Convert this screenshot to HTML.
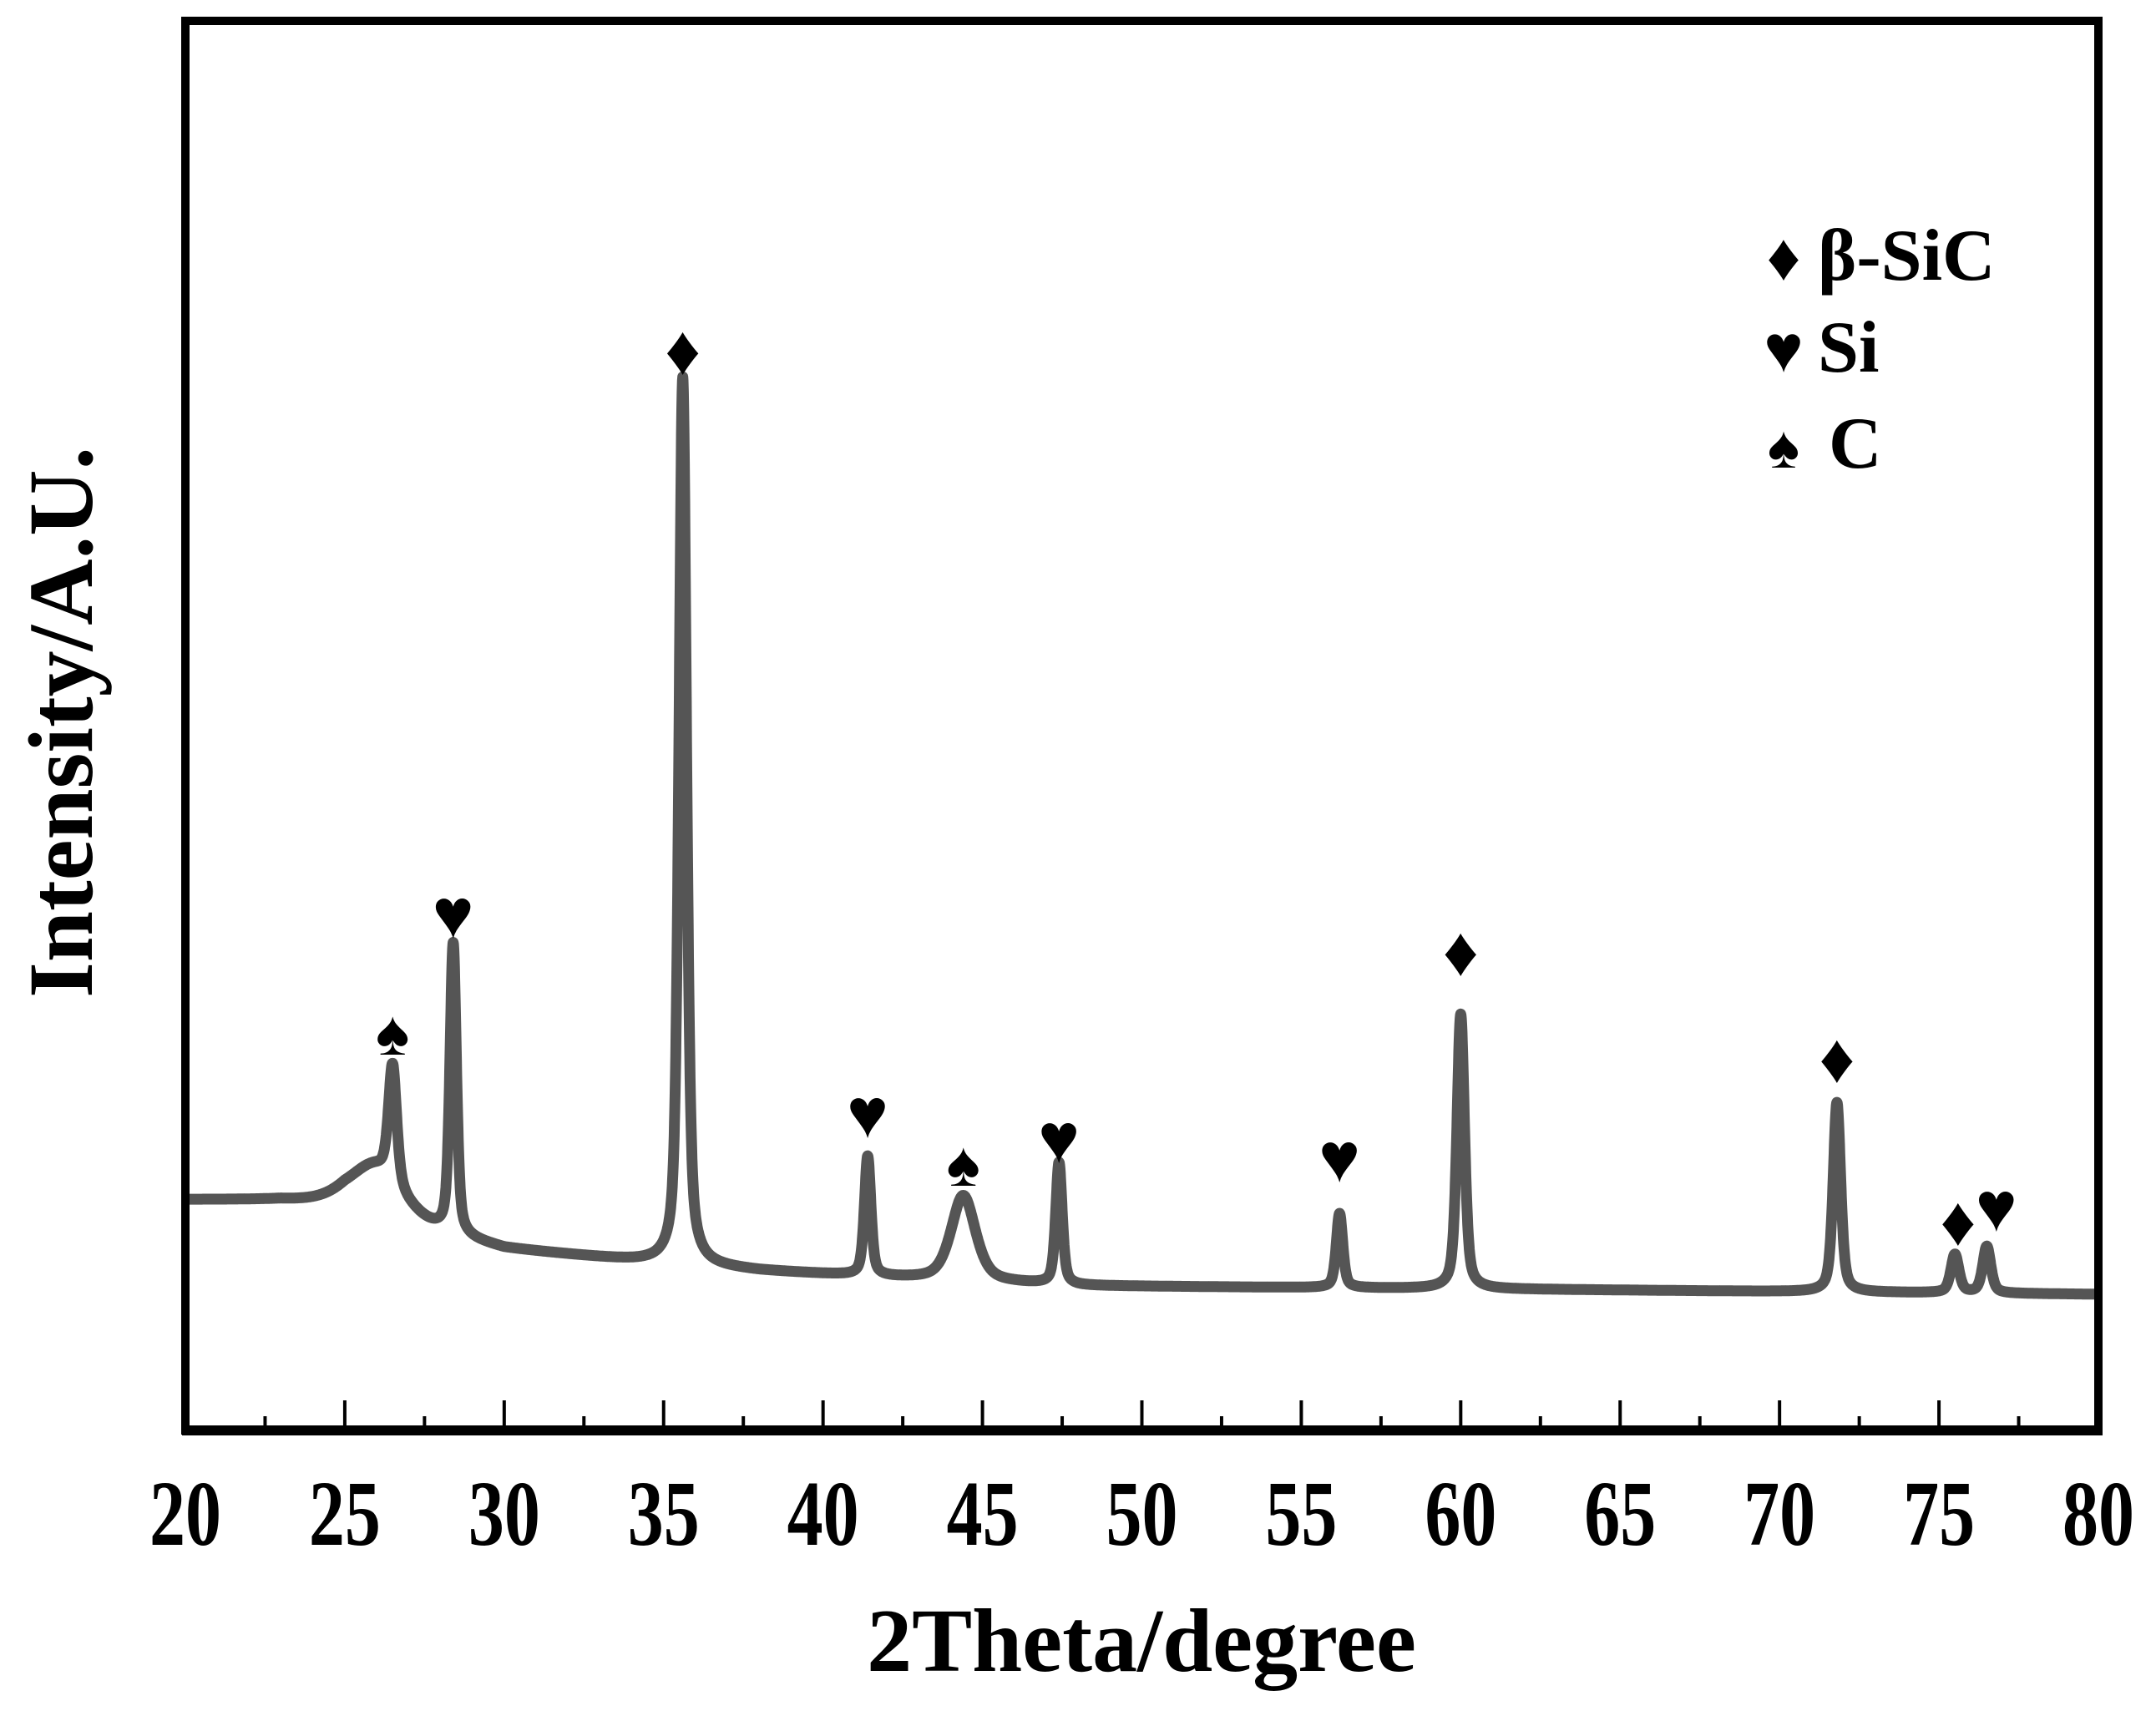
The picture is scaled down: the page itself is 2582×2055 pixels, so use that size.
<!DOCTYPE html>
<html><head><meta charset="utf-8"><style>
html,body{margin:0;padding:0;background:#fff;}
svg{display:block;}
text{font-family:"Liberation Serif",serif;font-weight:bold;fill:#000;}
</style></head><body>
<svg id="chart" width="2582" height="2055" viewBox="0 0 2582 2055" xmlns="http://www.w3.org/2000/svg">
<rect x="0" y="0" width="2582" height="2055" fill="#fff"/>
<g id="plot"></g>
<rect x="222" y="25" width="2291" height="1688" fill="none" stroke="#000" stroke-width="10"/>
<line x1="218" y1="1713" x2="2518" y2="1713" stroke="#000" stroke-width="12"/>
<g id="ticks"></g>
<text x="1367" y="2001" font-size="108" text-anchor="middle">2Theta/degree</text>
<text transform="translate(110,865) rotate(-90)" font-size="110" text-anchor="middle">Intensity/A.U.</text>
<g>
<text x="2136" y="335" font-size="80" text-anchor="middle" font-family="DejaVu Sans">♦</text>
<text x="2177" y="335" font-size="88">β-SiC</text>
<text x="2136" y="445" font-size="80" text-anchor="middle" font-family="DejaVu Sans">♥</text>
<text x="2177" y="445" font-size="88">Si</text>
<text x="2136" y="560" font-size="72" text-anchor="middle" font-family="DejaVu Sans">♠</text>
<text x="2190" y="560" font-size="88">C</text>
</g>
</svg>
<script>
const baseX = [20, 23, 25, 27, 30, 34, 38, 42, 48, 55, 65, 80];
const baseI = [273, 272, 266, 240, 214, 200, 188, 180, 170, 168, 165, 160];
const peakPos = [26.0, 26.5, 28.4, 35.6, 41.4, 44.4, 47.4, 56.2, 60.0, 71.8, 75.5, 76.5];
const peakHeight = [60, 140, 348, 1063, 143, 102, 146, 89, 329, 227, 46, 56];
const peakWidth = [1.0, 0.15, 0.12, 0.14, 0.12, 0.45, 0.12, 0.12, 0.14, 0.14, 0.15, 0.15];
const markerX = [26.5, 28.4, 35.6, 41.4, 44.4, 47.4, 56.2, 60.0, 71.8, 75.6, 76.8];
const markerI = [475, 615, 1290, 376, 318, 346, 323, 570, 442, 247, 264];
const markerSym = ['♠','♥','♦','♥','♠','♥','♥','♦','♦','♦','♥'];
const tickLabels = ['20','25','30','35','40','45','50','55','60','65','70','75','80'];
const tickValues = [20,25,30,35,40,45,50,55,60,65,70,75,80];

const NS = 'http://www.w3.org/2000/svg';
const X0 = 222, X1 = 2513, Y0 = 1710;
function xs(v){ return X0 + (v - 20) / 60 * (X1 - X0); }
function ys(i){ return Y0 - i; }
function baseline(v){
  for (let k = 0; k < baseX.length - 1; k++) {
    if (v <= baseX[k+1]) { const t = (v - baseX[k]) / (baseX[k+1] - baseX[k]); return baseI[k] + t * (baseI[k+1] - baseI[k]); }
  }
  return baseI[baseI.length - 1];
}
function intensity(v){
  let s = baseline(v);
  for (let k = 0; k < peakPos.length; k++) {
    const d = (v - peakPos[k]) / peakWidth[k];
    s += peakHeight[k] * (0.5 / (1 + d*d) + 0.5 * Math.exp(-0.693 * d*d));
  }
  return s;
}
const plot = document.getElementById('plot');
let d = '';
for (let v = 20; v <= 80.0001; v += 0.01) {
  d += (d ? 'L' : 'M') + xs(v).toFixed(1) + ',' + ys(intensity(v)).toFixed(1);
}
const path = document.createElementNS(NS, 'path');
path.setAttribute('d', d);
path.setAttribute('fill', 'none');
path.setAttribute('stroke', '#555');
path.setAttribute('stroke-width', '13');
path.setAttribute('stroke-linejoin', 'round');


plot.appendChild(path);

for (let k = 0; k < markerX.length; k++) {
  const t = document.createElementNS(NS, 'text');
  t.setAttribute('x', xs(markerX[k]));
  t.setAttribute('y', ys(markerI[k]) + 28);
  t.setAttribute('font-size', markerSym[k] === '♠' ? '76' : '84');
  t.setAttribute('font-family', 'DejaVu Sans');
  t.setAttribute('text-anchor', 'middle');
  t.textContent = markerSym[k];
  
  
  plot.appendChild(t);
}

const ticks = document.getElementById('ticks');
for (let v = 20; v <= 80; v += 2.5) {
  const major = (v % 5 === 0);
  const l = document.createElementNS(NS, 'line');
  l.setAttribute('x1', xs(v)); l.setAttribute('x2', xs(v));
  l.setAttribute('y1', 1710); l.setAttribute('y2', major ? 1677 : 1696);
  l.setAttribute('stroke', '#000'); l.setAttribute('stroke-width', '4');
  
  
  ticks.appendChild(l);
}
for (let k = 0; k < tickValues.length; k++) {
  const t = document.createElementNS(NS, 'text');
  t.setAttribute('x', 0);
  t.setAttribute('y', 0);
  t.setAttribute('transform', 'translate(' + xs(tickValues[k]) + ',1850) scale(1,1.3)');
  t.setAttribute('font-size', '86');
  t.setAttribute('text-anchor', 'middle');
  t.textContent = tickLabels[k];
  
  
  ticks.appendChild(t);
}
</script>
</body></html>
